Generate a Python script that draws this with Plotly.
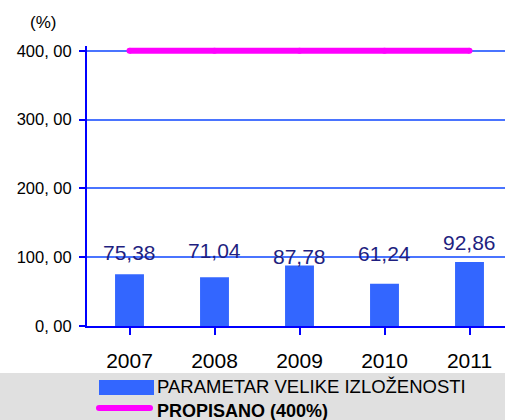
import plotly.graph_objects as go

years = ["2007", "2008", "2009", "2010", "2011"]
values = [75.38, 71.04, 87.78, 61.24, 92.86]
limit = [400, 400, 400, 400, 400]
label_texts = ["75,38", "71,04", "87,78", "61,24", "92,86"]
ytick_vals = [0, 100, 200, 300, 400]
ytick_text = ["0, 00", "100, 00", "200, 00", "300, 00", "400, 00"]
series_names = ["PARAMETAR VELIKE IZLOŽENOSTI", "PROPISANO (400%)"]

FONT = "Liberation Sans, Arial, sans-serif"
W, H = 505, 420
L, R, T, B = 87, 0, 46, 94
pw, ph = W - L - R, H - T - B

def px(x):
    return (x - L) / pw

def py(y):
    return (H - B - y) / ph

fig = go.Figure()
fig.add_trace(go.Bar(x=list(range(len(years))), y=values, width=0.34,
                     marker=dict(color="#3366ff", line=dict(width=0)),
                     name=series_names[0], showlegend=False))
fig.add_trace(go.Scatter(x=list(range(len(years))), y=limit, mode="lines+markers",
                         line=dict(color="#ff00ff", width=6),
                         marker=dict(color="#ff00ff", size=6),
                         name=series_names[1], showlegend=False, cliponaxis=False))

label_shift = [21.6, 26.3, 9.3, 30.2, 19.9]
for i, (v, t) in enumerate(zip(values, label_texts)):
    fig.add_annotation(x=i, y=v, text=t, showarrow=False, yanchor="middle",
                       yshift=label_shift[i],
                       font=dict(family=FONT, size=21, color="#1f1f80"))

shapes = [
    dict(type="rect", xref="paper", yref="paper", x0=px(0), x1=px(W), y0=py(373), y1=py(H),
         fillcolor="#e0e0e0", line=dict(width=0), layer="below"),
    dict(type="rect", xref="paper", yref="paper", x0=px(99), x1=px(154), y0=py(380), y1=py(395),
         fillcolor="#3366ff", line=dict(width=0)),
    dict(type="line", xref="paper", yref="paper", x0=px(99), x1=px(150), y0=py(408), y1=py(408),
         line=dict(color="#ff00ff", width=6)),
    dict(type="circle", xref="paper", yref="paper", x0=px(96), x1=px(102), y0=py(405), y1=py(411),
         fillcolor="#ff00ff", line=dict(width=0)),
    dict(type="circle", xref="paper", yref="paper", x0=px(147), x1=px(153), y0=py(405), y1=py(411),
         fillcolor="#ff00ff", line=dict(width=0)),
]
annotations = [
    dict(xref="paper", yref="paper", x=px(155), y=py(386), xanchor="left", yanchor="middle",
         text=series_names[0], showarrow=False,
         font=dict(family=FONT, size=18.5, color="#000000")),
    dict(xref="paper", yref="paper", x=px(155), y=py(411), xanchor="left", yanchor="middle",
         text="<b>" + series_names[1] + "</b>", showarrow=False,
         font=dict(family=FONT, size=18, color="#000000")),
    dict(xref="paper", yref="paper", x=px(43), y=py(22), xanchor="center", yanchor="middle",
         text="(%)", showarrow=False, font=dict(family=FONT, size=17, color="#000000")),
]

fig.update_layout(
    width=W, height=H,
    margin=dict(l=L, r=R, t=T, b=B, pad=0),
    paper_bgcolor="white", plot_bgcolor="white",
    font=dict(family=FONT, color="#000000"),
    shapes=shapes,
    annotations=list(fig.layout.annotations) + annotations,
    showlegend=False,
    bargap=0.66,
)
fig.update_xaxes(
    range=[-0.5, -0.5 + pw / 85.0],
    tickmode="array", tickvals=list(range(len(years))), ticktext=years,
    tickson="boundaries", ticks="outside", ticklen=7, tickwidth=2, tickcolor="#0000ff",
    showline=True, linecolor="#0000ff", linewidth=2,
    showgrid=False, zeroline=False,
    tickfont=dict(family=FONT, size=21, color="#000000"),
    ticklabelstandoff=8,
)
fig.update_yaxes(
    range=[0, 407],
    tickmode="array", tickvals=ytick_vals, ticktext=ytick_text,
    ticks="outside", ticklen=6, tickwidth=2, tickcolor="#0000ff",
    showline=True, linecolor="#0000ff", linewidth=2,
    showgrid=True, gridcolor="#4a74ff", gridwidth=2,
    zeroline=False,
    tickfont=dict(family=FONT, size=16.5, color="#000000"),
    ticklabelstandoff=4,
)

fig.write_html("out.html", config={"displayModeBar": False},
               post_script="document.body.style.margin='0';document.body.style.padding='0';")
